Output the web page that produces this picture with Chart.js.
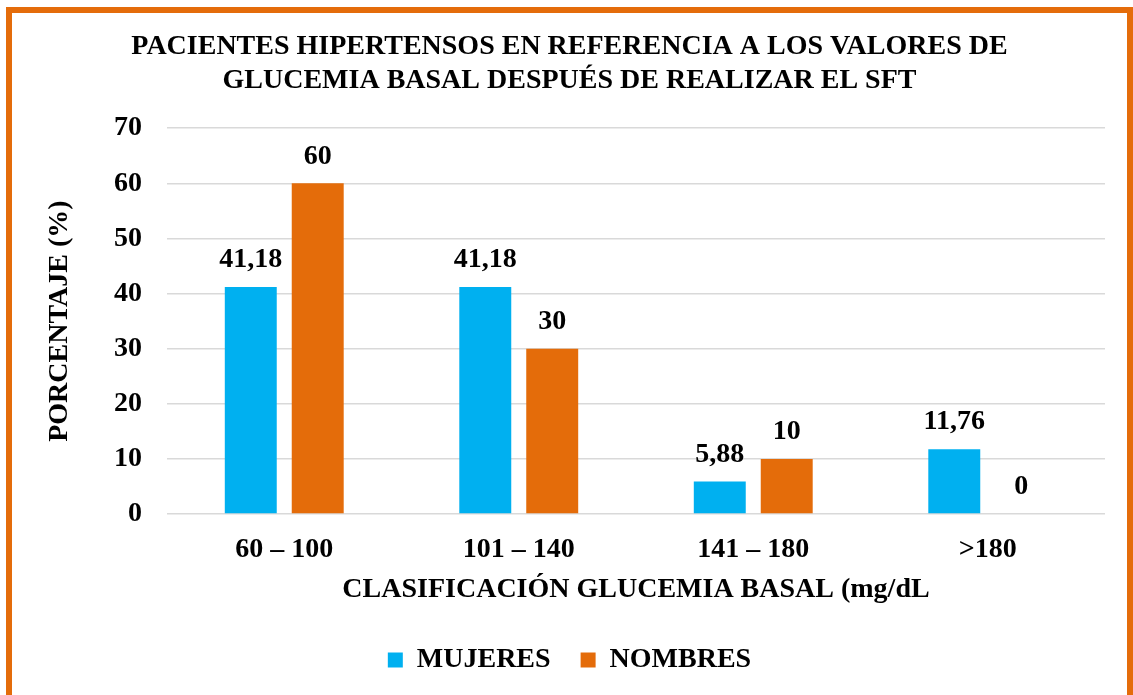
<!DOCTYPE html>
<html>
<head>
<meta charset="utf-8">
<script src="https://cdn.jsdelivr.net/npm/chart.js@4.4.1/dist/chart.umd.min.js"></script>
<style>
  html, body { margin: 0; padding: 0; background: #fff; overflow: hidden; }
  #frame {
    position: absolute; left: 6px; top: 7px; width: 1127px; height: 800px;
    box-sizing: border-box; border: 6px solid #E46C0A; border-bottom: none;
  }
  #chart { position: absolute; left: 0; top: 0; }
</style>
</head>
<body>
<div id="frame"></div>
<canvas id="chart" width="1133" height="695"></canvas>
<script>
const categories = ['60 – 100', '101 – 140', '141 – 180', '>180'];
const mujeres = [41.18, 41.18, 5.88, 11.76];
const nombres = [60, 30, 10, 0];
const yTicks = [0, 10, 20, 30, 40, 50, 60, 70];

Chart.defaults.font.family = "'Liberation Serif', 'Times New Roman', serif";
Chart.defaults.font.weight = 'bold';
Chart.defaults.color = '#000';

// value labels above each bar, decimal comma
const barLabels = {
  id: 'barLabels',
  afterDatasetsDraw(chart) {
    const ctx = chart.ctx;
    ctx.save();
    ctx.font = "bold 28px 'Liberation Serif', serif";
    ctx.fillStyle = '#000';
    ctx.textAlign = 'center';
    ctx.textBaseline = 'middle';
    chart.data.datasets.forEach((ds, i) => {
      chart.getDatasetMeta(i).data.forEach((bar, j) => {
        const txt = String(ds.data[j]).replace('.', ',');
        ctx.fillText(txt, bar.x, bar.y - 27);
      });
    });
    ctx.restore();
  }
};

new Chart(document.getElementById('chart'), {
  type: 'bar',
  data: {
    labels: categories,
    datasets: [
      { label: 'MUJERES', data: mujeres, backgroundColor: '#00B0F0',
        barPercentage: 0.776, categoryPercentage: 0.571 },
      { label: 'NOMBRES', data: nombres, backgroundColor: '#E46C0A',
        barPercentage: 0.776, categoryPercentage: 0.571 }
    ]
  },
  options: {
    responsive: false,
    animation: false,
    layout: { padding: { left: 6, right: 0, top: 0, bottom: 11 } },
    plugins: {
      title: {
        display: true,
        text: ['PACIENTES HIPERTENSOS EN REFERENCIA A LOS VALORES DE',
               'GLUCEMIA BASAL DESPUÉS DE REALIZAR EL SFT'],
        font: { size: 28, weight: 'bold', lineHeight: 1.2 },
        color: '#000',
        padding: { top: 30, bottom: 31 }
      },
      legend: {
        position: 'bottom',
        labels: { boxWidth: 15, boxHeight: 15, padding: 30,
                  font: { size: 28, weight: 'bold' }, color: '#000' }
      },
      tooltip: { enabled: false }
    },
    scales: {
      x: {
        grid: { display: false },
        border: { display: false },
        ticks: { font: { size: 28, weight: 'bold' }, padding: 11 },
        title: { display: true, text: 'CLASIFICACIÓN GLUCEMIA BASAL (mg/dL',
                 font: { size: 28, weight: 'bold' }, padding: { top: 0, bottom: 9 } },
        afterFit(scale) { scale.height = 102; }
      },
      y: {
        min: 0, max: 70,
        afterBuildTicks(scale) { scale.ticks = yTicks.map(v => ({ value: v })); },
        grid: { color: '#D9D9D9', lineWidth: 1.5, drawTicks: false },
        border: { display: false },
        ticks: { font: { size: 28, weight: 'bold' }, padding: 25 },
        title: { display: true, text: 'PORCENTAJE (%)',
                 font: { size: 28, weight: 'bold' }, padding: { top: 37, bottom: 0 } },
        afterFit(scale) { scale.width = 161; }
      },
      // empty right-hand spacer so the plot stops short of the frame
      spacer: {
        position: 'right',
        display: true,
        grid: { display: false },
        border: { display: false },
        ticks: { display: false },
        afterFit(scale) { scale.width = 28; }
      }
    }
  },
  plugins: [barLabels]
});
</script>
</body>
</html>
